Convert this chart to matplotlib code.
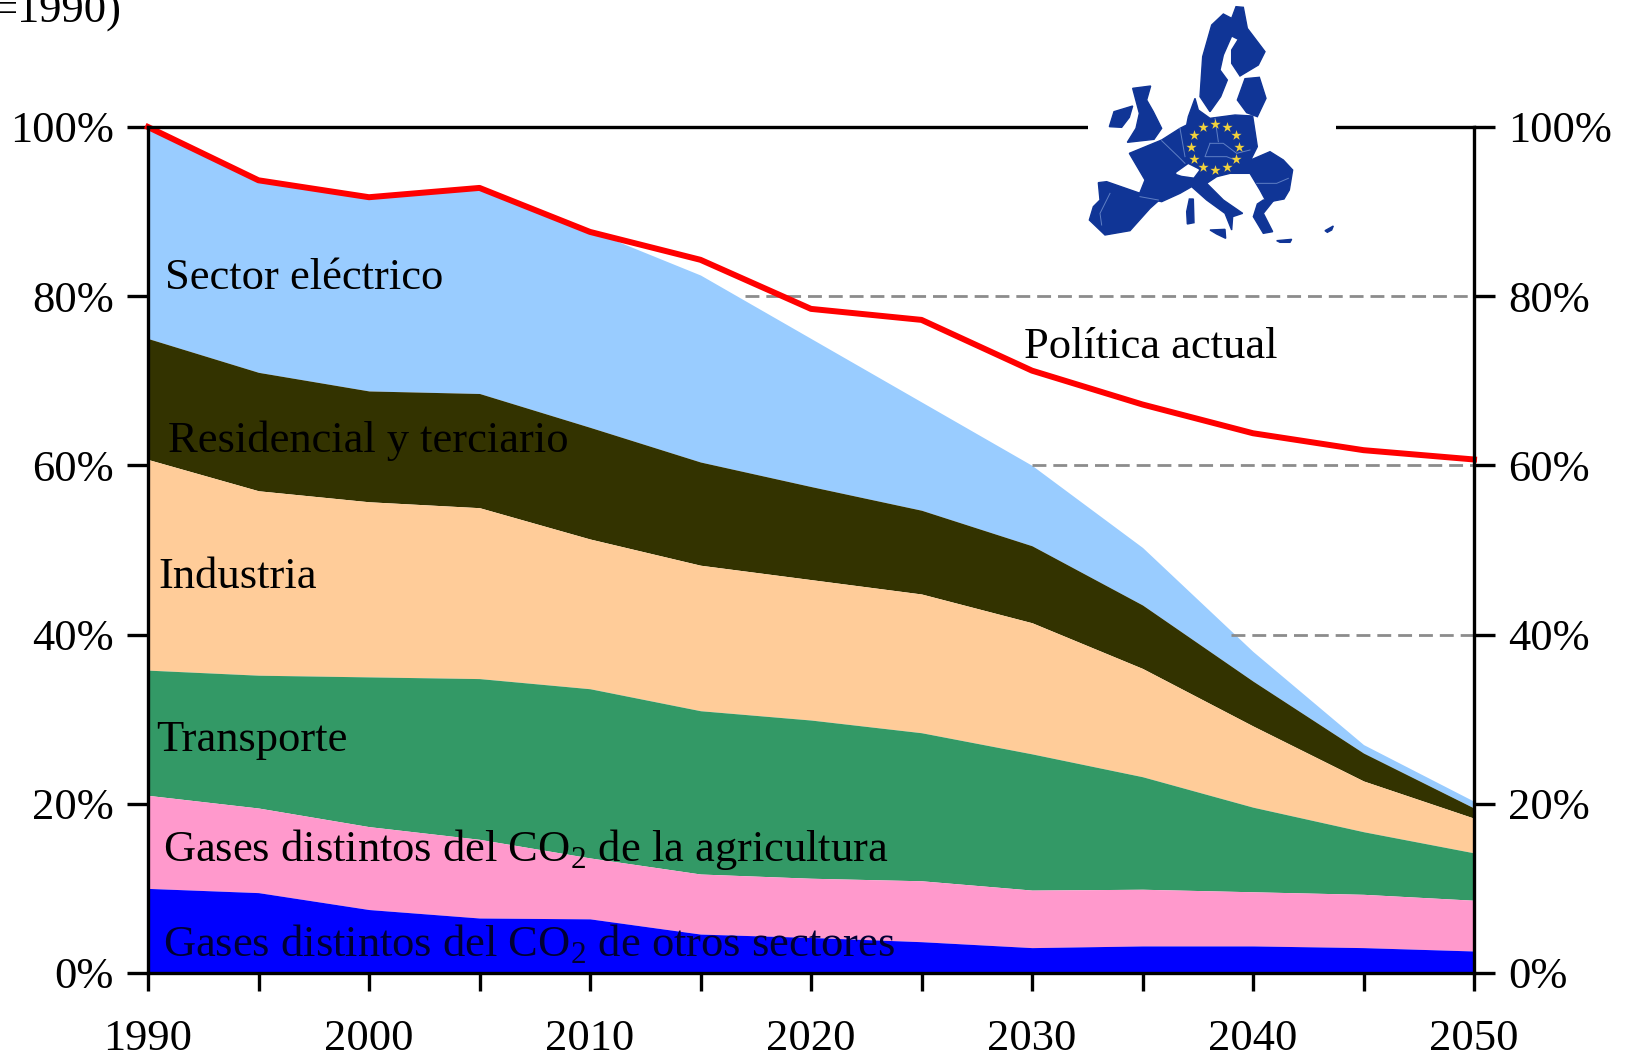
import matplotlib
matplotlib.use("Agg")
import matplotlib.pyplot as plt
from matplotlib.patches import Polygon

plt.rcParams['font.family'] = ['Liberation Serif', 'DejaVu Serif']
plt.rcParams['mathtext.fontset'] = 'custom'
plt.rcParams['mathtext.rm'] = 'Liberation Serif'

years = [1990, 1995, 2000, 2005, 2010, 2015, 2020, 2025, 2030, 2035, 2040, 2045, 2050]
otros = [10.0, 9.5, 7.5, 6.5, 6.4, 4.6, 4.2, 3.7, 3.0, 3.2, 3.2, 3.0, 2.6]
agricultura = [21.0, 19.5, 17.3, 15.8, 13.6, 11.7, 11.2, 10.9, 9.8, 9.9, 9.6, 9.3, 8.6]
transporte = [35.8, 35.2, 35.0, 34.8, 33.6, 31.0, 29.9, 28.4, 25.9, 23.2, 19.6, 16.7, 14.2]
industria = [60.7, 57.0, 55.7, 55.0, 51.3, 48.2, 46.5, 44.8, 41.4, 36.0, 29.2, 22.7, 18.3]
residencial = [75.0, 71.0, 68.8, 68.5, 64.5, 60.4, 57.5, 54.7, 50.5, 43.5, 34.5, 26.0, 19.5]
electrico = [100.0, 94.0, 91.7, 92.8, 87.8, 82.5, 75.0, 67.5, 60.0, 50.3, 38.0, 27.0, 20.3]
politica = [100.0, 93.7, 91.7, 92.8, 87.6, 84.3, 78.5, 77.2, 71.2, 67.2, 63.8, 61.8, 60.7]

layers = [otros, agricultura, transporte, industria, residencial, electrico]
layer_colors = ['#0000FF', '#FF99CC', '#339966', '#FFCC99', '#333300', '#99CCFF']
y_ticks = [0, 20, 40, 60, 80, 100]
y_labels = ['0%', '20%', '40%', '60%', '80%', '100%']
x_labels = [1990, 2000, 2010, 2020, 2030, 2040, 2050]
dash_levels = [80, 60, 40]
dash_starts = [2017, 2030, 2039]

# rough outline of the EU inset, in inset units
map_shapes = [
    [(450,290),(458,170),(485,75),(520,42),(545,55),(558,20),(580,22),(592,85),(645,155),(625,195),(570,228),(545,190),(545,150),(565,118),(545,108),(520,165),(510,210),(532,240),(512,290),(480,335)],
    [(585,236),(628,232),(648,295),(622,350),(590,338),(562,300)],
    [(178,380),(192,335),(248,318),(238,352),(215,382)],
    [(248,265),(302,258),(290,300),(310,335),(335,385),(312,418),(232,427),(258,385),(268,340)],
    [(415,350),(435,295),(445,330),(480,355),(555,345),(608,348),(622,440),(602,480),(660,455),(700,480),(728,510),(718,570),(702,597),(650,607),(630,570),(600,520),(540,520),(500,530),(470,550),(520,600),(578,640),(548,650),(545,690),(525,640),(470,600),(425,560),(390,580),(335,605),(265,590),(285,540),(238,460),(335,420),(390,385),(410,375)],
    [(640,600),(672,600),(640,640),(668,695),(640,700),(610,650),(622,612)],
    [(145,548),(170,545),(328,600),(300,625),(240,692),(165,705),(118,660),(130,620),(150,600)],
    [(418,597),(430,597),(432,668),(412,672),(410,635)],
    [(480,690),(525,688),(527,715),(500,702)],
    [(680,722),(725,718),(720,727),(690,727)],
    [(825,692),(850,678),(845,690),(832,697)],
]
swiss = [(380,520),(415,495),(445,510),(430,530),(395,525)]
borders = [
    [(335,422),(385,470),(405,490)],
    [(480,430),(520,430),(560,460),(600,450)],
    [(480,430),(465,470),(530,470),(555,480)],
    [(390,385),(405,470)],
    [(620,550),(680,550),(715,535)],
    [(180,580),(150,640),(155,675)],
    [(270,590),(325,600)],
    [(495,355),(505,425)],
]
star_x = [458, 495, 531, 557, 567, 557, 531, 495, 458, 432, 422, 432]
star_y = [380, 371, 380, 406, 441, 477, 501, 511, 501, 477, 441, 406]

fig = plt.figure(figsize=(16.26, 10.57), dpi=100, facecolor='white')
W, H = 1626, 1057
L, R, T, B = 148, 1474, 127, 973
ax = fig.add_axes([L/W, 1-B/H, (R-L)/W, (B-T)/H])

for top, bottom, color in zip(layers[::-1], layers[-2::-1] + [[0]*len(years)], layer_colors[::-1]):
    ax.fill_between(years, bottom, top, color=color, lw=0, zorder=1)

for level, start in zip(dash_levels, dash_starts):
    ax.plot([start, 2050], [level, level], color='#8c8c8c', lw=2, ls=(0, (5, 2.5)), zorder=2)

ax.plot(years, politica, color='#FF0000', lw=4.3, zorder=3, solid_joinstyle='round', clip_on=False)

ax.set_xlim(1990, 2050)
ax.set_ylim(0, 100)
ax.set_xticks(range(1990, 2051, 5))
ax.set_xticklabels([str(y) if y in x_labels else '' for y in range(1990, 2051, 5)])
ax.set_yticks(y_ticks)
ax.set_yticklabels(y_labels)
ax.tick_params(axis='x', direction='out', length=13, width=2.4, labelsize=32, pad=20, colors='black')
ax.tick_params(axis='y', direction='out', length=15, width=2.4, labelsize=32, pad=9.5, colors='black',
               right=True, labelright=True)
for s in ax.spines.values():
    s.set_linewidth(2.4)
    s.set_zorder(5)

labels = [
    ('Sector eléctrico', 165, 278),
    ('Residencial y terciario', 168, 441),
    ('Industria', 158, 577),
    ('Transporte', 156, 740),
    ('Gases distintos del CO$_2$ de la agricultura', 163, 849),
    ('Gases distintos del CO$_2$ de otros sectores', 163, 944),
    ('Política actual', 1024, 347),
]
for txt, px, py in labels:
    fig.text(px/W, 1-py/H, txt, fontsize=32, color='black' if 'otros' not in txt else '#000033',
             ha='left', va='center', zorder=10)

fig.text(122/W, 1-12/H, '=1990)', fontsize=32, ha='right', va='center')

# map
m = fig.add_axes([1088/W, 1-260/H, (1336-1088)/W, 260/H], zorder=6)
m.set_xlim(114, 858)
m.set_ylim(780, 0)
m.axis('off')
m.add_patch(plt.Rectangle((114, 0), 744, 780, color='white', lw=0, zorder=0))
for pts in map_shapes:
    m.add_patch(Polygon(pts, closed=True, fc='#103596', ec='#103596', lw=1, zorder=1))
for pts in borders:
    m.plot([p[0] for p in pts], [p[1] for p in pts], color='#5f7fc4', lw=0.7, zorder=2)
m.add_patch(Polygon(swiss, closed=True, fc='white', ec='white', zorder=2))
m.scatter(star_x, star_y, marker='*', s=60, color='#F2D23C', lw=0, zorder=3)

fig.savefig('out.png', dpi=100)
